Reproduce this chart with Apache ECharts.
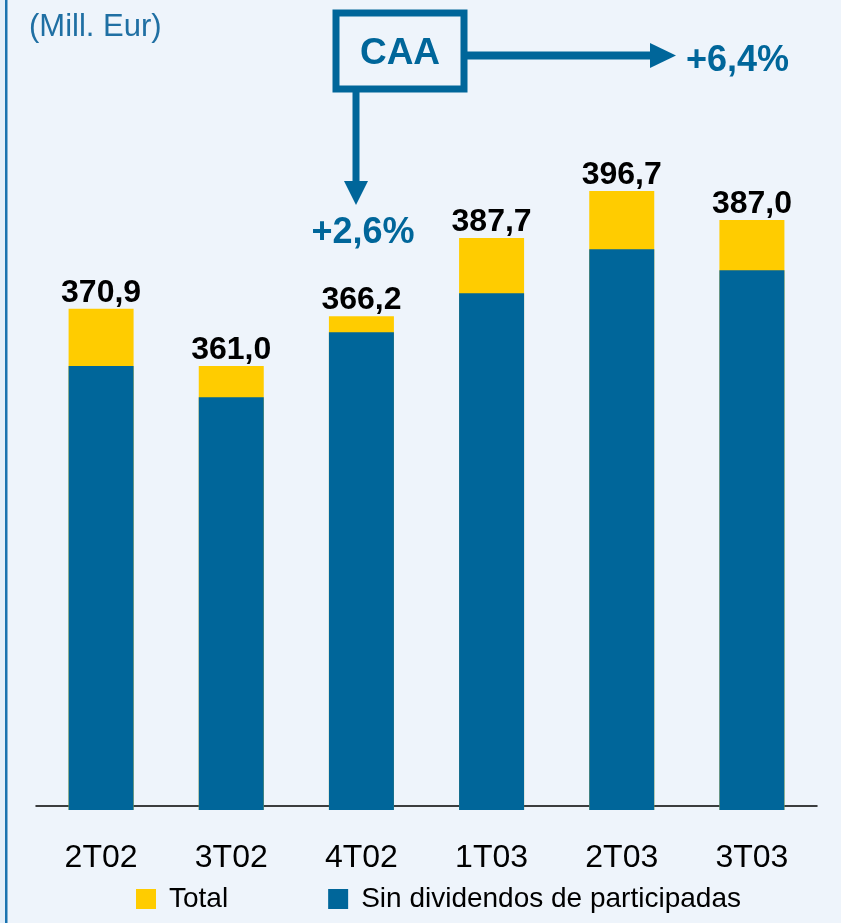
<!DOCTYPE html>
<html>
<head>
<meta charset="utf-8">
<script src="https://cdn.jsdelivr.net/npm/echarts@6/dist/echarts.min.js"></script>
<style>
  html, body { margin: 0; padding: 0; background: #eef4fb; }
  #chart { width: 841px; height: 923px; }
</style>
</head>
<body>
<div id="chart"></div>
<script>
// trimestres
const quarters = ['2T02', '3T02', '4T02', '1T03', '2T03', '3T03'];
const totalValues = [372.6, 360.9, 371.1, 387.1, 396.7, 390.8];
const sinDivValues = [360.9, 354.5, 367.8, 375.8, 384.8, 380.5];
// etiquetas impresas sobre las barras
const totalLabels = ['370,9', '361,0', '366,2', '387,7', '396,7', '387,0'];

const BLUE = '#00669a';
const YELLOW = '#ffcc00';
const FONT = '"Liberation Sans", Arial, sans-serif';

const chart = echarts.init(document.getElementById('chart'));

chart.setOption({
  backgroundColor: '#eef4fb',
  textStyle: { fontFamily: FONT },
  title: {
    text: '(Mill. Eur)',
    left: 24,
    top: 7,
    textStyle: { fontSize: 31, fontWeight: 'normal', color: '#1f6fa3', fontFamily: FONT }
  },
  legend: {
    left: 131,
    top: 880,
    itemWidth: 20,
    itemHeight: 20,
    itemGap: 100,
    icon: 'rect',
    textStyle: { fontSize: 28, color: '#000', fontFamily: FONT, padding: [0, 0, 0, 8] },
    data: ['Total', 'Sin dividendos de participadas']
  },
  grid: { left: 36, right: 24, top: 175, bottom: 113 },
  xAxis: {
    type: 'category',
    data: quarters,
    offset: -4,
    axisLine: { lineStyle: { color: '#000', width: 1.5 } },
    axisTick: { show: false },
    axisLabel: { fontSize: 32, color: '#000', margin: 36, fontFamily: FONT }
  },
  yAxis: {
    type: 'value',
    min: 270,
    max: 400,
    show: false
  },
  series: [
    {
      name: 'Total',
      type: 'bar',
      barWidth: 65,
      barGap: '-100%',
      data: totalValues,
      itemStyle: { color: YELLOW },
      label: {
        show: true,
        position: 'top',
        distance: 0,
        fontSize: 32,
        fontWeight: 'bold',
        color: '#000',
        fontFamily: FONT,
        formatter: p => totalLabels[p.dataIndex]
      }
    },
    {
      name: 'Sin dividendos de participadas',
      type: 'bar',
      barWidth: 65,
      data: sinDivValues,
      itemStyle: { color: BLUE }
    }
  ],
  graphic: [
    // borde izquierdo
    { type: 'rect', shape: { x: 0, y: 0, width: 5, height: 923 }, style: { fill: '#e2eef9' } },
    { type: 'rect', shape: { x: 5, y: 0, width: 2.5, height: 923 }, style: { fill: '#1a73b0' } },
    // caja CAA
    { type: 'rect', shape: { x: 336, y: 13, width: 128, height: 76 }, style: { fill: 'none', stroke: BLUE, lineWidth: 7 } },
    { type: 'text', x: 400, y: 54, style: { text: 'CAA', font: 'bold 37px ' + FONT, fill: BLUE, align: 'center', verticalAlign: 'middle' } },
    // flecha hacia abajo
    { type: 'rect', shape: { x: 352.5, y: 92, width: 7, height: 92 }, style: { fill: BLUE } },
    { type: 'polygon', shape: { points: [[344, 181], [368, 181], [356, 205]] }, style: { fill: BLUE } },
    { type: 'text', x: 363, y: 233, style: { text: '+2,6%', font: 'bold 36px ' + FONT, fill: BLUE, align: 'center', verticalAlign: 'middle' } },
    // flecha hacia la derecha
    { type: 'rect', shape: { x: 467, y: 51.5, width: 185, height: 8 }, style: { fill: BLUE } },
    { type: 'polygon', shape: { points: [[650, 43], [650, 68], [676, 55.5]] }, style: { fill: BLUE } },
    { type: 'text', x: 686, y: 61, style: { text: '+6,4%', font: 'bold 36px ' + FONT, fill: BLUE, align: 'left', verticalAlign: 'middle' } }
  ]
});
</script>
</body>
</html>
